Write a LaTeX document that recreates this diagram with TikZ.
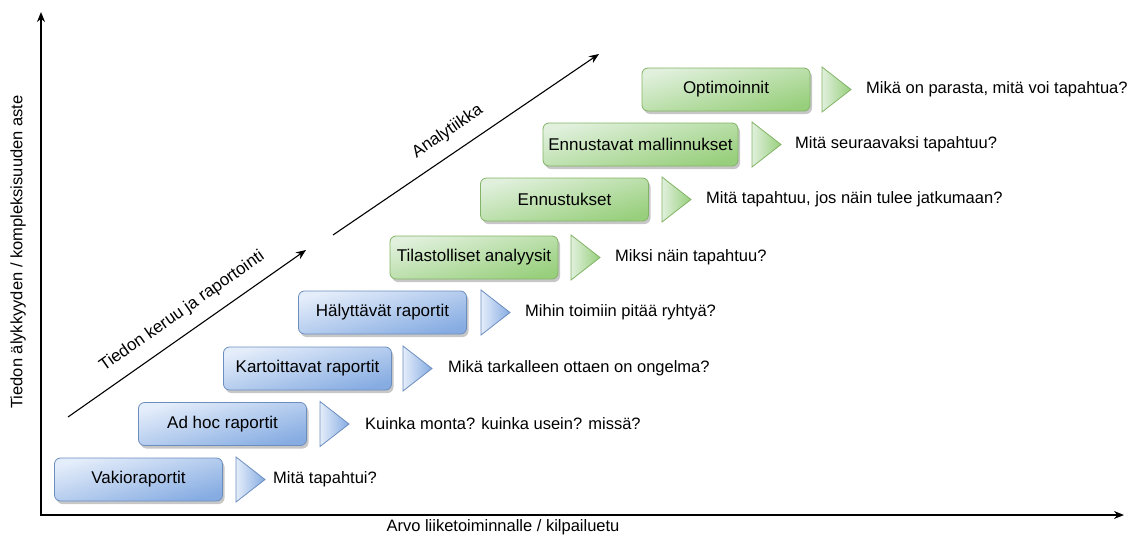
\documentclass[tikz,border=0pt]{standalone}
\usepackage{fontspec}
\setmainfont{Liberation Sans}
\usetikzlibrary{arrows.meta,shapes.geometric,shadows}

\definecolor{blueTop}{HTML}{E4EDFA}
\definecolor{blueBot}{HTML}{86ACE2}
\definecolor{blueLine}{HTML}{6C8EBF}
\definecolor{greenTop}{HTML}{E0F0DC}
\definecolor{greenBot}{HTML}{98CF7C}
\definecolor{greenLine}{HTML}{82B366}

\begin{document}
\begin{tikzpicture}[x=1pt,y=-1pt,
  stagebox/.style={rounded corners=6pt, minimum width=168pt, minimum height=43pt,
    inner sep=0pt, outer sep=0pt, line width=0.8pt,
    font=\fontsize{17}{20}\selectfont,
    drop shadow={shadow xshift=2pt, shadow yshift=-3pt, opacity=0.22, fill=black}},
  bluebox/.style={stagebox, draw=blueLine, top color=blueTop, bottom color=blueBot, shading angle=15},
  greenbox/.style={stagebox, draw=greenLine, top color=greenTop, bottom color=greenBot, shading angle=15},
  pointer/.style={isosceles triangle, isosceles triangle stretches, shape border rotate=0,
    minimum width=45pt, minimum height=29pt, inner sep=0pt, outer sep=0pt,
    anchor=lower side, line width=0.8pt},
  bluetri/.style={pointer, draw=blueLine, left color=blueTop, right color=blueBot},
  greentri/.style={pointer, draw=greenLine, left color=greenTop, right color=greenBot},
  question/.style={anchor=west, inner sep=0pt, font=\fontsize{16.5}{20}\selectfont},
  axis/.style={line width=1.4pt, {Stealth[length=10pt,width=8pt]}-{Stealth[length=10pt,width=8pt]}},
  trend/.style={line width=1.1pt, -{Stealth[length=10pt,width=8pt]}},
  trendlabel/.style={sloped, above=9pt, pos=0.5, font=\fontsize{17}{20}\selectfont},
  axislabel/.style={font=\fontsize{16.5}{20}\selectfont, inner sep=0pt}
]
\useasboundingbox (0,0) rectangle (1136,536);

% axes
\coordinate (O) at (41,515);
\coordinate (ytop) at (41,12);
\coordinate (xend) at (1124,515);
\draw[axis] (ytop) -- (O) -- (xend);
\node[axislabel, rotate=90] (ylab) at (18,252) {Tiedon älykkyyden / kompleksisuuden aste};
\node[axislabel] (xlab) at (503,527) {Arvo liiketoiminnalle / kilpailuetu};

% trend arrows
\coordinate (r0) at (68,417);
\coordinate (r1) at (306,250);
\coordinate (a0) at (333,235);
\coordinate (a1) at (599,54);
\draw[trend] (r0) -- node[trendlabel, pos=0.53] (rlab) {Tiedon keruu ja raportointi} (r1);
\draw[trend] (a0) -- node[trendlabel, pos=0.475] (alab) {Analytiikka} (a1);

% reporting stages
\node[bluebox] (b1) at (138.5,479.5) {Vakioraportit};
\node[bluetri] (t1) at (236,479.5) {};
\node[question] (q1) at (273,479.5) {Mitä tapahtui?};

\node[bluebox] (b2) at (222.5,424) {Ad hoc raportit};
\node[bluetri] (t2) at (320,424) {};
\node[question] (q2) at (365,424) {Kuinka monta? kuinka usein? missä?};

\node[bluebox] (b3) at (307.5,368.5) {Kartoittavat raportit};
\node[bluetri] (t3) at (403,368.5) {};
\node[question] (q3) at (448,368.5) {Mikä tarkalleen ottaen on ongelma?};

\node[bluebox] (b4) at (382.5,312.5) {Hälyttävät raportit};
\node[bluetri] (t4) at (481,312.5) {};
\node[question] (q4) at (525,312.5) {Mihin toimiin pitää ryhtyä?};

% analytics stages
\node[greenbox] (g5) at (474,257.5) {Tilastolliset analyysit};
\node[greentri] (t5) at (571,257.5) {};
\node[question] (q5) at (615,257.5) {Miksi näin tapahtuu?};

\node[greenbox] (g6) at (564.5,199.5) {Ennustukset};
\node[greentri] (t6) at (662,199.5) {};
\node[question] (q6) at (706,199.5) {Mitä tapahtuu, jos näin tulee jatkumaan?};

\node[greenbox, minimum width=195pt] (g7) at (640.5,144.5) {Ennustavat mallinnukset};
\node[greentri] (t7) at (752,144.5) {};
\node[question] (q7) at (795,144.5) {Mitä seuraavaksi tapahtuu?};

\node[greenbox] (g8) at (726,89.5) {Optimoinnit};
\node[greentri] (t8) at (822,89.5) {};
\node[question] (q8) at (866,89.5) {Mikä on parasta, mitä voi tapahtua?};
\end{tikzpicture}
\end{document}
